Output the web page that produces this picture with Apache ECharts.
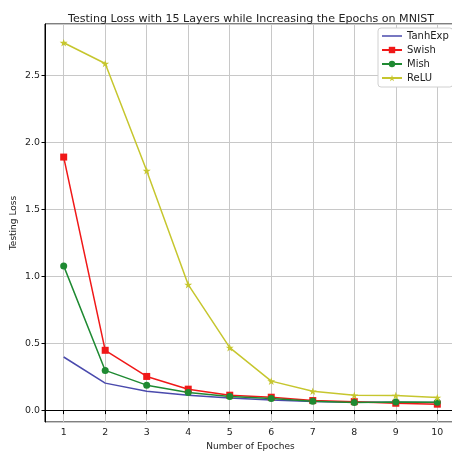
<!DOCTYPE html>
<html>
<head>
<meta charset="utf-8">
<script src="https://cdn.jsdelivr.net/npm/echarts@6/dist/echarts.min.js"></script>
<style>
html,body{margin:0;padding:0;background:#fff;}
#chart{width:452px;height:454px;}
</style>
</head>
<body>
<div id="chart"></div>
<script>
const epochs = [1, 2, 3, 4, 5, 6, 7, 8, 9, 10];
const tanhExp = [0.40, 0.205, 0.145, 0.115, 0.095, 0.08, 0.068, 0.063, 0.062, 0.06];
const swish = [1.892, 0.45, 0.255, 0.16, 0.115, 0.10, 0.075, 0.067, 0.055, 0.048];
const mish = [1.08, 0.30, 0.19, 0.135, 0.105, 0.09, 0.07, 0.06, 0.065, 0.063];
const relu = [2.745, 2.59, 1.79, 0.94, 0.47, 0.22, 0.144, 0.114, 0.112, 0.097];
const seriesNames = ['TanhExp', 'Swish', 'Mish', 'ReLU'];

const star = 'path://M100,0 L122.45,69.1 L195.1,69.1 L136.3,111.8 L158.8,180.9 L100,138.2 L41.2,180.9 L63.7,111.8 L4.9,69.1 L77.55,69.1 Z';
const lineIcon = 'path://M0,0 L20,0 L20,1.5 L0,1.5 Z';
const font = 'DejaVu Sans';

function pairs(vals) { return epochs.map((e, i) => [e, vals[i]]); }

function mk(name, vals, color, symbol, size) {
  return {
    name: name, type: 'line', data: pairs(vals),
    symbol: symbol, symbolSize: size, symbolKeepAspect: true,
    showSymbol: symbol !== 'none',
    lineStyle: { color: color, width: 1.5 },
    itemStyle: { color: color },
    emphasis: { disabled: true },
    animation: false
  };
}

const chart = echarts.init(document.getElementById('chart'), null, { renderer: 'canvas' });
chart.setOption({
  backgroundColor: '#fff',
  animation: false,
  title: {
    text: 'Testing Loss with 15 Layers while Increasing the Epochs on MNIST',
    left: 63, top: 9,
    textStyle: { fontFamily: font, fontSize: 11.1, fontWeight: 'normal', color: '#222' }
  },
  legend: {
    data: [{ name: seriesNames[0], icon: lineIcon }, seriesNames[1], seriesNames[2], seriesNames[3]],
    orient: 'vertical', left: 378, top: 28,
    itemWidth: 20, itemHeight: 8, itemGap: 2,
    padding: [2, 4, 3, 3],
    backgroundColor: '#fff', borderColor: '#d0d0d0', borderWidth: 1, borderRadius: 3,
    textStyle: { fontFamily: font, fontSize: 10, color: '#222', lineHeight: 12 }
  },
  grid: {
    left: 45, top: 24, width: 411, height: 398,
    outerBoundsMode: 'none', containLabel: false,
    show: true, borderColor: '#000', borderWidth: 1, backgroundColor: 'transparent'
  },
  xAxis: {
    type: 'value', min: 0.55, max: 10.45, splitNumber: 10,
    name: 'Number of Epoches', nameLocation: 'middle', nameGap: 20, nameMoveOverlap: false,
    nameTextStyle: { fontFamily: font, fontSize: 9, color: '#222' },
    axisLine: { show: true, lineStyle: { color: '#000', width: 1 } },
    axisTick: { show: true, length: 3.5, lineStyle: { color: '#000' } },
    axisLabel: { fontFamily: font, fontSize: 9.4, color: '#222', margin: 6, showMinLabel: false, showMaxLabel: false },
    splitLine: { show: true, lineStyle: { color: '#c8c8c8', width: 1 } }
  },
  yAxis: {
    type: 'value', min: -0.085, max: 2.885, splitNumber: 6,
    name: 'Testing Loss', nameLocation: 'middle', nameGap: 27, nameMoveOverlap: false,
    nameTextStyle: { fontFamily: font, fontSize: 9, color: '#222' },
    axisLine: { show: true, lineStyle: { color: '#000', width: 1 } },
    axisTick: { show: true, length: 3.5, lineStyle: { color: '#000' } },
    axisLabel: { fontFamily: font, fontSize: 9.4, color: '#222', margin: 5, showMinLabel: false, showMaxLabel: false,
      formatter: v => v.toFixed(1) },
    splitLine: { show: true, lineStyle: { color: '#c8c8c8', width: 1 } }
  },
  series: [
    mk(seriesNames[0], tanhExp, '#4a4aad', 'none', 0),
    mk(seriesNames[1], swish, '#f01818', 'rect', 7),
    mk(seriesNames[2], mish, '#1f8a32', 'circle', 7),
    mk(seriesNames[3], relu, '#c6c62e', star, 8)
  ]
});
</script>
</body>
</html>
